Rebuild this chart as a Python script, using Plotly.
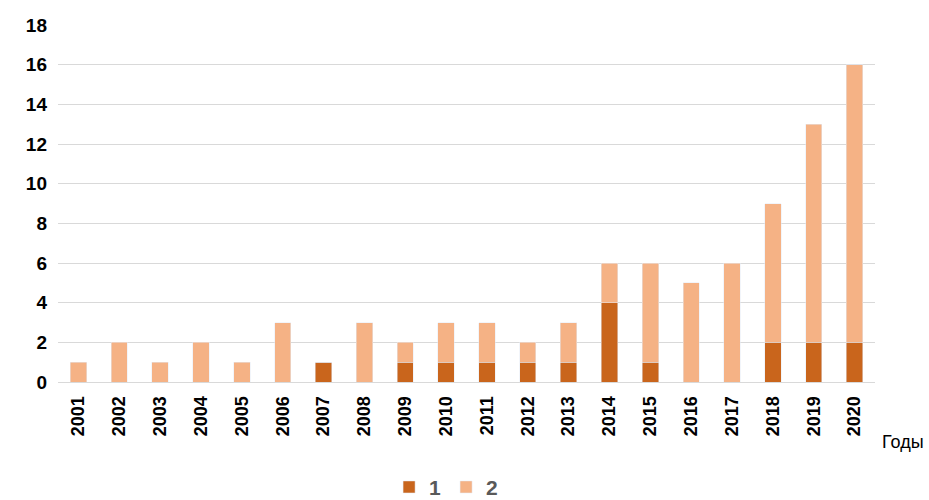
import plotly.graph_objects as go

years = [str(y) for y in range(2001, 2021)]
series1 = [0, 0, 0, 0, 0, 0, 1, 0, 1, 1, 1, 1, 1, 4, 1, 0, 0, 2, 2, 2]
series2 = [1, 2, 1, 2, 1, 3, 0, 3, 1, 2, 2, 1, 2, 2, 5, 5, 6, 7, 11, 14]
y_ticks = list(range(0, 19, 2))

fig = go.Figure()
fig.add_trace(go.Bar(x=years, y=series1, name="1", marker_color="#C9651C"))
fig.add_trace(go.Bar(x=years, y=series2, name="2", marker_color="#F5B285"))

fig.update_layout(
    barmode="stack",
    bargap=0.6,
    width=929, height=500,
    margin=dict(l=58, r=54, t=25, b=118, autoexpand=False),
    plot_bgcolor="white", paper_bgcolor="white",
    font=dict(family="Liberation Sans, Arial, sans-serif", color="#000000"),
    showlegend=True,
    legend=dict(orientation="h", x=0.475, xanchor="center", y=-0.295, yanchor="middle",
                font=dict(size=21, color="#595959", family="Liberation Sans, Arial, sans-serif", weight="bold"),
                traceorder="normal", tracegroupgap=0),
    xaxis=dict(tickangle=-90, tickfont=dict(size=18, weight="bold"), showgrid=False,
               showline=True, linecolor="#d9d9d9", ticks="", automargin=False, ticklabelstandoff=6),
    yaxis=dict(range=[0, 18], tickvals=y_ticks, tickfont=dict(size=19, weight="bold"),
               showgrid=True, gridcolor="#d9d9d9", zeroline=False, ticks="", ticklabelstandoff=10,
               automargin=False),
    annotations=[dict(text="Годы", x=1.006, y=-0.168, xref="paper", yref="paper",
                      xanchor="left", yanchor="middle", showarrow=False,
                      font=dict(size=18, color="#000000"))],
)

fig.write_html("out.html")
